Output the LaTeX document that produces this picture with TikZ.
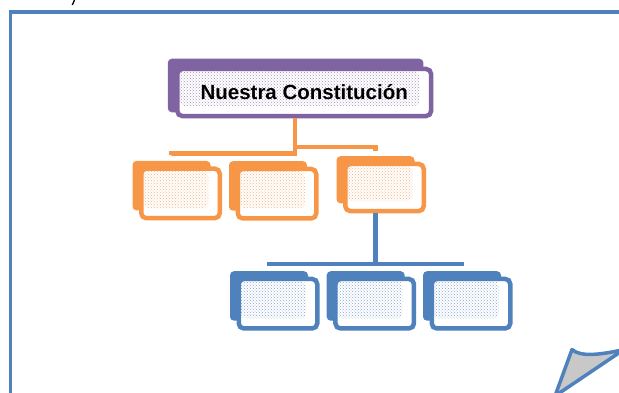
\documentclass[tikz,border=0pt]{standalone}
\usepackage{fontspec}
\setmainfont{Liberation Sans}
\usetikzlibrary{patterns,backgrounds}
\definecolor{cOrange}{HTML}{F79646}
\definecolor{cPurple}{HTML}{8064A2}
\definecolor{cBlue}{HTML}{4F81BD}
\definecolor{cFrame}{HTML}{4F81BD}
\definecolor{cCurl}{HTML}{C8C8C8}
\tikzset{
  frontbox/.style={draw=#1, line width=4.5pt, fill=white, rounded corners=5pt, inner sep=0pt,
    path picture={\fill[pattern=crosshatch dots, pattern color=#1!70]
      ([xshift=2pt,yshift=-2pt]path picture bounding box.north west) rectangle
      ([xshift=-11.5pt,yshift=10pt]path picture bounding box.south east);}},
  childbox/.style={frontbox=#1, minimum width=78.5pt, minimum height=49.5pt},
  backshape/.style={fill=#1, rounded corners=4pt},
  conn/.style={draw=#1, line width=4.5pt, line join=miter},
  framestyle/.style={draw=cFrame, line width=3.5pt}
}
\begin{document}
\begin{tikzpicture}[x=1pt,y=-1pt]
\useasboundingbox (0,0) rectangle (619,392);
\clip (0,0) rectangle (619,392);
% outer frame
\draw[framestyle] (10.5,12) rectangle (660,420);
% fragment of text above the frame
\draw[line width=1.3pt, black] (74.5,0) -- (72.3,5);
% title
\node[frontbox=cPurple, minimum width=253.8pt, minimum height=47.1pt,
      font=\bfseries\fontsize{20.5}{23}\selectfont] (t) at (304.2,92.5) {Nuestra Constitución};
% orange children
\node[childbox=cOrange] (o1) at (180.5,193.4) {};
\node[childbox=cOrange] (o2) at (277,193.7) {};
\node[childbox=cOrange, minimum height=47.1pt] (o3) at (384.5,187.5) {};
% blue children
\node[childbox=cBlue] (b1) at (278,303.7) {};
\node[childbox=cBlue] (b2) at (374.7,303.7) {};
\node[childbox=cBlue] (b3) at (471,303.7) {};
% back shapes
\begin{pgfonlayer}{background}
  \fill[backshape=cPurple] ([xshift=-7.2pt,yshift=8pt]t.north west) rectangle ([xshift=-10pt,yshift=6pt]t.south east);
  \foreach \n/\c in {o1/cOrange,o2/cOrange,o3/cOrange,b1/cBlue,b2/cBlue,b3/cBlue}{
    \fill[backshape=\c] ([xshift=-6.5pt,yshift=5.5pt]\n.north west) rectangle ([xshift=-11.5pt,yshift=10pt]\n.south east);
  }
\end{pgfonlayer}
% connector anchors
\coordinate (tc) at ([xshift=-9pt]t.south);
\coordinate (o3c) at ([xshift=-9pt]o3.south);
\coordinate (barL) at (0,153.5);
\coordinate (barR) at (0,147);
\coordinate (barB) at (0,264);
\foreach \n in {o1,o2,o3,b1,b2,b3}{
  \coordinate (\n top) at ([xshift=-9pt,yshift=11.2pt]\n.north);
}
% orange connectors
\draw[conn=cOrange] (tc) -- (tc |- barL) -| (o1top);
\draw[conn=cOrange] (tc) -- (tc |- barL) -| (o2top);
\draw[conn=cOrange] (tc) -- (tc |- barR) -| (o3top);
% blue connectors
\draw[conn=cBlue] (o3c) -- (o3c |- barB) -| (b1top);
\draw[conn=cBlue] (o3c) -- (o3c |- barB) -| (b2top);
\draw[conn=cBlue] (o3c) -- (o3c |- barB) -| (b3top);
% page curl
\draw[framestyle, fill=cCurl, line join=round]
  (624,349.5) .. controls (600,355) and (580,357) .. (572,349.5)
  -- (555,396) -- cycle;
\end{tikzpicture}
\end{document}
